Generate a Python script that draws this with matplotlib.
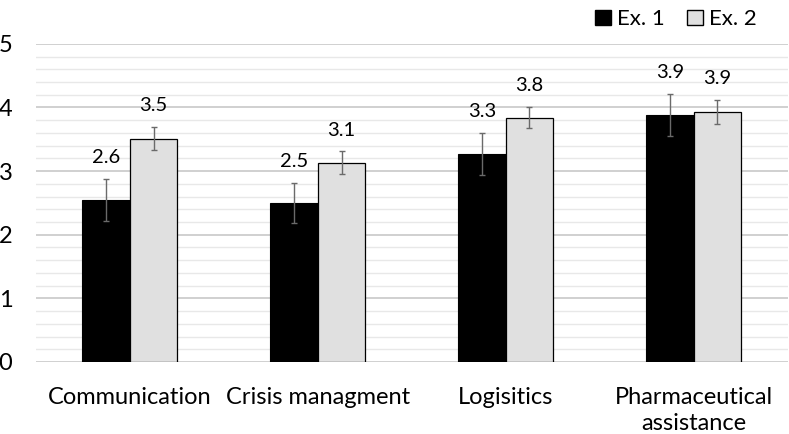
import matplotlib.pyplot as plt
import numpy as np
from matplotlib.ticker import MultipleLocator
from matplotlib.patches import Patch

categories = ["Communication", "Crisis managment", "Logisitics", "Pharmaceutical\nassistance"]
ex1 = [2.55, 2.50, 3.27, 3.88]
ex2 = [3.51, 3.13, 3.84, 3.93]
ex1_err = [0.33, 0.32, 0.33, 0.33]
ex2_err = [0.18, 0.18, 0.17, 0.19]
ex1_labels = ["2.6", "2.5", "3.3", "3.9"]
ex2_labels = ["3.5", "3.1", "3.8", "3.9"]

plt.rcParams['font.family'] = ['Lato', 'DejaVu Sans']

fig = plt.figure(figsize=(7.89, 4.34), dpi=100)
ax = fig.add_axes([0.0456, 0.166, 0.9525, 0.733])

x = np.arange(len(categories))
w = 0.253
ax.bar(x - w / 2, ex1, w, color='black', edgecolor='black', linewidth=0.8, zorder=3)
ax.bar(x + w / 2, ex2, w, color='#e0e0e0', edgecolor='black', linewidth=0.9, zorder=3)
ax.errorbar(x - w / 2, ex1, yerr=ex1_err, fmt='none', ecolor='#6a6a6a', elinewidth=1, capsize=2.5, zorder=4)
ax.errorbar(x + w / 2, ex2, yerr=ex2_err, fmt='none', ecolor='#6a6a6a', elinewidth=1, capsize=2.5, zorder=4)

for i in range(len(categories)):
    ax.text(x[i] - w / 2, ex1[i] + ex1_err[i] + 0.2, ex1_labels[i], ha='center', va='bottom', fontsize=14.5)
    ax.text(x[i] + w / 2, ex2[i] + ex2_err[i] + 0.2, ex2_labels[i], ha='center', va='bottom', fontsize=14.5)

ax.set_xlim(-0.5, 3.5)
ax.set_ylim(0, 5)
ax.yaxis.set_major_locator(MultipleLocator(1))
ax.yaxis.set_minor_locator(MultipleLocator(0.2))
ax.grid(axis='y', which='major', color='#c8c8c8', linewidth=1.2, zorder=0)
ax.grid(axis='y', which='minor', color='#e8e8e8', linewidth=1.0, zorder=0)
for s in ax.spines.values():
    s.set_visible(False)
ax.tick_params(axis='both', which='both', length=0)
ax.tick_params(axis='y', labelsize=17, pad=17)
ax.tick_params(axis='x', labelsize=17, pad=18)
ax.set_xticks(x)
ax.set_xticklabels(categories, linespacing=1.3)
ax.set_yticks(range(6))

handles = [Patch(facecolor='black', edgecolor='black', label='Ex. 1'),
           Patch(facecolor='#e0e0e0', edgecolor='black', label='Ex. 2')]
fig.legend(handles=handles, loc='upper right', bbox_to_anchor=(0.985, 1.025), ncol=2, frameon=False,
           fontsize=16, handlelength=0.7, handleheight=0.7, handletextpad=0.3, columnspacing=1.0)

fig.savefig('out.png', dpi=100)
